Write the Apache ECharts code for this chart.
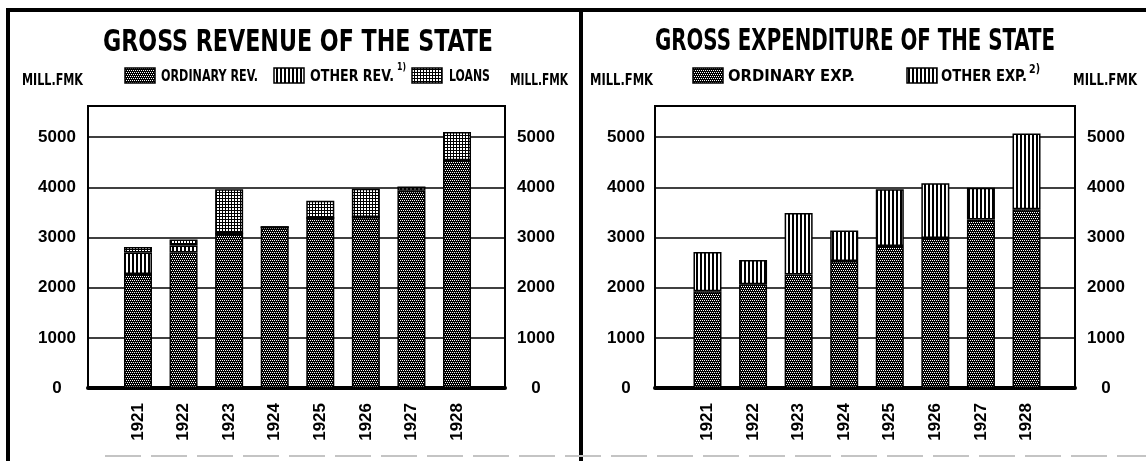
<!DOCTYPE html>
<html>
<head>
<meta charset="utf-8">
<script src="https://cdn.jsdelivr.net/npm/echarts@6/dist/echarts.min.js"></script>
<style>
html, body { margin: 0; padding: 0; background: #fff; }
#chart { width: 1146px; height: 461px; }
</style>
</head>
<body>
<div id="chart"></div>
<script>
// data (mill. fmk)
const years = ['1921', '1922', '1923', '1924', '1925', '1926', '1927', '1928'];
const ordinaryRev = [2270, 2700, 3080, 3210, 3390, 3410, 3930, 4540];
const otherRev = [430, 140, 0, 0, 0, 0, 70, 0];
const loans = [110, 120, 880, 0, 340, 560, 0, 560];
const ordinaryExp = [1930, 2070, 2260, 2530, 2830, 2990, 3360, 3560];
const otherExp = [780, 480, 1230, 610, 1130, 1090, 630, 1510];
const yTicks = [0, 1000, 2000, 3000, 4000, 5000];

const titleRev = 'GROSS REVENUE OF THE STATE';
const titleExp = 'GROSS EXPENDITURE OF THE STATE';
const unit = 'MILL.FMK';

// hatch patterns like the printed ones
function pattern(kind) {
  const c = document.createElement('canvas');
  const ctx = c.getContext('2d');
  if (kind === 'dots') {
    c.width = 4; c.height = 4;
    ctx.fillStyle = '#000'; ctx.fillRect(0, 0, 4, 4);
    ctx.fillStyle = '#fff';
    ctx.fillRect(0, 0, 1, 1); ctx.fillRect(2, 0, 1, 1);
    ctx.fillRect(1, 2, 1, 1); ctx.fillRect(3, 2, 1, 1);
  } else if (kind === 'stripes') {
    c.width = 4; c.height = 1;
    ctx.fillStyle = '#fff'; ctx.fillRect(0, 0, 4, 1);
    ctx.fillStyle = '#000'; ctx.fillRect(0, 0, 2, 1);
  } else {
    c.width = 3; c.height = 3;
    ctx.fillStyle = '#fff'; ctx.fillRect(0, 0, 3, 3);
    ctx.fillStyle = '#000'; ctx.fillRect(0, 0, 3, 1); ctx.fillRect(0, 0, 1, 3);
  }
  return { image: c, repeat: 'repeat' };
}
const pDots = pattern('dots');
const pStripes = pattern('stripes');
const pGrid = pattern('grid');

const condensed = '"DejaVu Sans Condensed", "DejaVu Sans", sans-serif';
const axisFont = { fontFamily: '"Liberation Sans", Arial, sans-serif', fontWeight: 'bold', fontSize: 17, color: '#000' };
const Y_MAX = 5620;

// squeeze a text into the width it has in the print
const measure = document.createElement('canvas').getContext('2d');
function fitText(text, x, y, width, size) {
  const font = 'bold ' + size + 'px ' + condensed;
  measure.font = font;
  const w = measure.measureText(text).width;
  return {
    type: 'text', x: x, y: y, scaleX: width / w,
    style: { text: text, font: font, fill: '#000', align: 'left', verticalAlign: 'middle' }
  };
}
function box(x, y, fill) {
  return { type: 'rect', shape: { x: x, y: y, width: 30, height: 15 },
    style: { fill: fill, stroke: '#000', lineWidth: 1.5 } };
}
function line(x1, y1, x2, y2, w, color, dash) {
  return { type: 'line', shape: { x1: x1, y1: y1, x2: x2, y2: y2 },
    style: { stroke: color || '#000', lineWidth: w, lineDash: dash || null } };
}

// frame grid: gridlines, value labels, thick base line
function frameY(grid, position, margin, split) {
  return {
    type: 'value', gridIndex: grid, position: position,
    min: yTicks[0], max: Y_MAX, interval: 1000,
    axisLine: { show: false }, axisTick: { show: false },
    axisLabel: Object.assign({
      margin: margin, align: 'center',
      formatter: v => (yTicks.indexOf(v) >= 0 ? String(v) : '')
    }, axisFont),
    splitLine: { show: split, lineStyle: { color: '#000', width: 1.5 } }
  };
}
function frameX(grid) {
  return {
    type: 'value', gridIndex: grid, min: 0, max: 1,
    axisLine: { show: true, onZero: false, lineStyle: { color: '#000', width: 4 } },
    axisTick: { show: false }, axisLabel: { show: false }, splitLine: { show: false }
  };
}
// bar grid: years, same value scale, nothing drawn but bars and years
function barX(grid) {
  return {
    type: 'category', gridIndex: grid, data: years,
    axisLine: { show: false }, axisTick: { show: false }, splitLine: { show: false },
    axisLabel: Object.assign({ interval: 0, rotate: 90, margin: 15 }, axisFont)
  };
}
function barY(grid) {
  return { type: 'value', gridIndex: grid, min: 0, max: Y_MAX, show: false, splitLine: { show: false } };
}
function bars(name, values, fill, xi, yi, stack) {
  return {
    type: 'bar', name: name, xAxisIndex: xi, yAxisIndex: yi, stack: stack,
    barWidth: 28, data: values,
    itemStyle: { color: fill, borderColor: '#000', borderWidth: 1.5 }
  };
}

const chart = echarts.init(document.getElementById('chart'));
chart.setOption({
  animation: false,
  backgroundColor: '#fff',
  grid: [
    { left: 88, top: 106, width: 417, height: 282, show: true, borderColor: '#000', borderWidth: 2 },
    { left: 115.2, top: 106, width: 364.6, height: 282 },
    { left: 655, top: 106, width: 420, height: 282, show: true, borderColor: '#000', borderWidth: 2 },
    { left: 684.7, top: 106, width: 364.6, height: 282 }
  ],
  xAxis: [frameX(0), barX(1), frameX(2), barX(3)],
  yAxis: [
    frameY(0, 'left', 31, true), frameY(0, 'right', 31, false), barY(1),
    frameY(2, 'left', 29, true), frameY(2, 'right', 31, false), barY(3)
  ],
  series: [
    bars('ORDINARY REV.', ordinaryRev, pDots, 1, 2, 'rev'),
    bars('OTHER REV.', otherRev, pStripes, 1, 2, 'rev'),
    bars('LOANS', loans, pGrid, 1, 2, 'rev'),
    bars('ORDINARY EXP.', ordinaryExp, pDots, 3, 5, 'exp'),
    bars('OTHER EXP.', otherExp, pStripes, 3, 5, 'exp')
  ],
  graphic: [
    // panel frames
    line(8, 8, 8, 461, 4),
    line(6, 10, 1146, 10, 4),
    line(581, 8, 581, 461, 4),
    line(105, 456, 1146, 456, 2, '#c4c4c4', [36, 10]),
    // titles
    fitText(titleRev, 103, 43, 390, 31),
    fitText(titleExp, 655, 42, 400, 31),
    // units
    fitText(unit, 22, 81, 61, 15),
    fitText(unit, 510, 81, 58, 15),
    fitText(unit, 590, 81, 63, 15),
    fitText(unit, 1073, 81, 64, 15),
    // revenue legend
    box(125, 68, pDots), fitText('ORDINARY REV.', 161, 77, 97, 15),
    box(274, 68, pStripes), fitText('OTHER REV.', 310, 77, 84, 15),
    fitText('1)', 397, 67, 9, 11),
    box(412, 68, pGrid), fitText('LOANS', 449, 77, 41, 15),
    // expenditure legend
    box(693, 68, pDots), fitText('ORDINARY EXP.', 728, 77, 127, 15),
    box(907, 68, pStripes), fitText('OTHER EXP.', 941, 77, 86, 15),
    fitText('2)', 1029, 70, 11, 12)
  ]
});
</script>
</body>
</html>
